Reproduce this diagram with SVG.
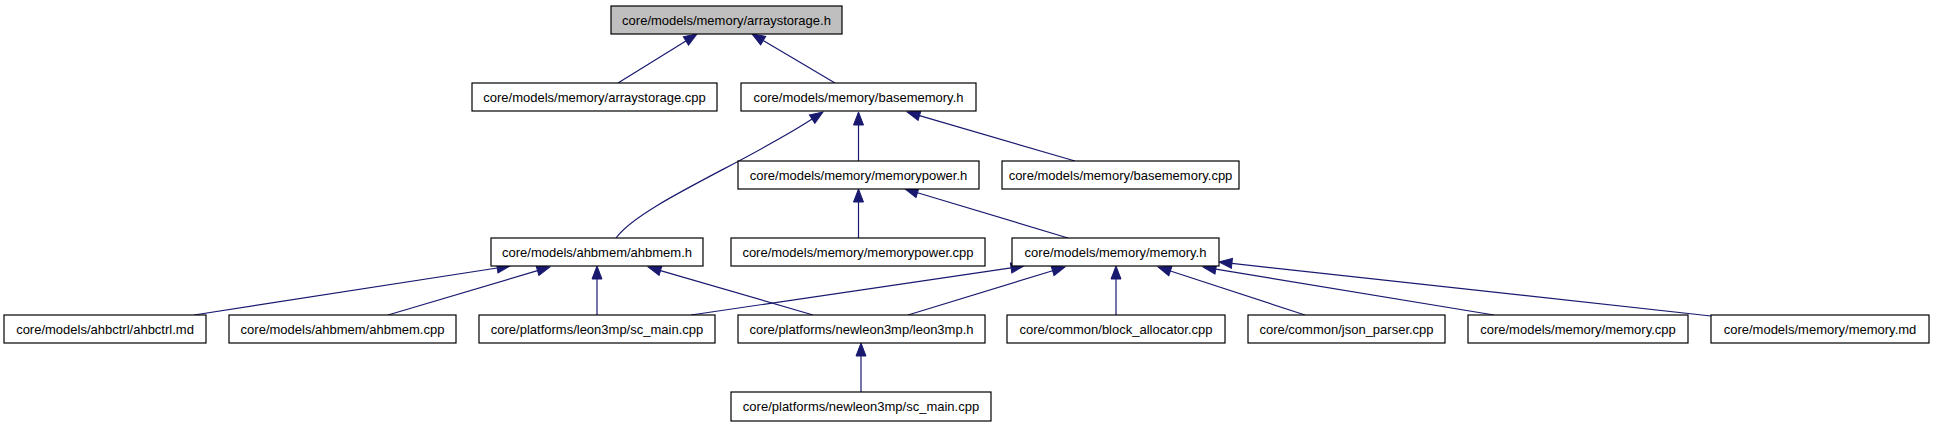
<svg xmlns="http://www.w3.org/2000/svg" width="1933" height="427" viewBox="0 0 1933 427">
<style>
.n rect{fill:#ffffff;stroke:#000000;stroke-width:1.2}
.n text{font-family:"Liberation Sans",Arial,Helvetica,sans-serif;font-size:13px;fill:#000000;text-anchor:middle}
#n0 rect{fill:#bfbfbf}
.e path{fill:none;stroke:#191970;stroke-width:1.2;marker-end:url(#ah)}
</style>
<defs>
<marker id="ah" markerUnits="userSpaceOnUse" markerWidth="16" markerHeight="12" refX="0" refY="5.5" orient="auto" viewBox="-1 -0.5 16 12">
<path d="M0,0.5 L13,5.5 L0,10.5 Z" fill="#191970" stroke="#191970" stroke-width="1"/>
</marker>
</defs>
<rect width="1933" height="427" fill="#ffffff"/>
<g id="edges" class="e">
<path d="M618,83 L685.9,40.9"/>
<path d="M835,83 L763.2,40.6"/>
<path d="M616,238 C640,205 745,163 812.1,119.1"/>
<path d="M858.5,161 L858.5,125"/>
<path d="M1075,161 L919.5,115.6"/>
<path d="M858.5,238 L858.5,202"/>
<path d="M1068,238 L917.5,192.7"/>
<path d="M194,315 L497.2,268"/>
<path d="M388,315 L537.5,270.7"/>
<path d="M597,315 L597,279"/>
<path d="M813,315 L660.5,270.6"/>
<path d="M691,315 L1011.1,267.9"/>
<path d="M908,315 L1052.6,270.8"/>
<path d="M1116,315 L1116,279"/>
<path d="M1305,315 L1170.4,271"/>
<path d="M1494,315 L1215.8,269.1"/>
<path d="M1711,316 L1231.9,263.4"/>
<path d="M861,392 L861,356"/>
</g>
<g id="n0" class="n"><rect x="611" y="6" width="231" height="28"/><text x="726.5" y="24.5">core/models/memory/arraystorage.h</text></g>
<g id="n1" class="n"><rect x="472" y="83" width="245" height="28"/><text x="594.5" y="101.5">core/models/memory/arraystorage.cpp</text></g>
<g id="n2" class="n"><rect x="741" y="83" width="235" height="28"/><text x="858.5" y="101.5">core/models/memory/basememory.h</text></g>
<g id="n3" class="n"><rect x="738" y="161" width="241" height="28"/><text x="858.5" y="179.5">core/models/memory/memorypower.h</text></g>
<g id="n4" class="n"><rect x="1002" y="161" width="237" height="28"/><text x="1120.5" y="179.5">core/models/memory/basememory.cpp</text></g>
<g id="n5" class="n"><rect x="491" y="238" width="212" height="28"/><text x="597" y="256.5">core/models/ahbmem/ahbmem.h</text></g>
<g id="n6" class="n"><rect x="731" y="238" width="254" height="28"/><text x="858" y="256.5">core/models/memory/memorypower.cpp</text></g>
<g id="n7" class="n"><rect x="1012" y="238" width="207" height="28"/><text x="1115.5" y="256.5">core/models/memory/memory.h</text></g>
<g id="n8" class="n"><rect x="4" y="315" width="202" height="28"/><text x="105" y="333.5">core/models/ahbctrl/ahbctrl.md</text></g>
<g id="n9" class="n"><rect x="229" y="315" width="227" height="28"/><text x="342.5" y="333.5">core/models/ahbmem/ahbmem.cpp</text></g>
<g id="n10" class="n"><rect x="479" y="315" width="236" height="28"/><text x="597" y="333.5">core/platforms/leon3mp/sc_main.cpp</text></g>
<g id="n11" class="n"><rect x="738" y="315" width="247" height="28"/><text x="861.5" y="333.5">core/platforms/newleon3mp/leon3mp.h</text></g>
<g id="n12" class="n"><rect x="1007" y="315" width="218" height="28"/><text x="1116" y="333.5">core/common/block_allocator.cpp</text></g>
<g id="n13" class="n"><rect x="1248" y="315" width="197" height="28"/><text x="1346.5" y="333.5">core/common/json_parser.cpp</text></g>
<g id="n14" class="n"><rect x="1468" y="315" width="220" height="28"/><text x="1578" y="333.5">core/models/memory/memory.cpp</text></g>
<g id="n15" class="n"><rect x="1711" y="315" width="218" height="28"/><text x="1820" y="333.5">core/models/memory/memory.md</text></g>
<g id="n16" class="n"><rect x="731" y="392" width="260" height="29"/><text x="861" y="411">core/platforms/newleon3mp/sc_main.cpp</text></g>
</svg>
